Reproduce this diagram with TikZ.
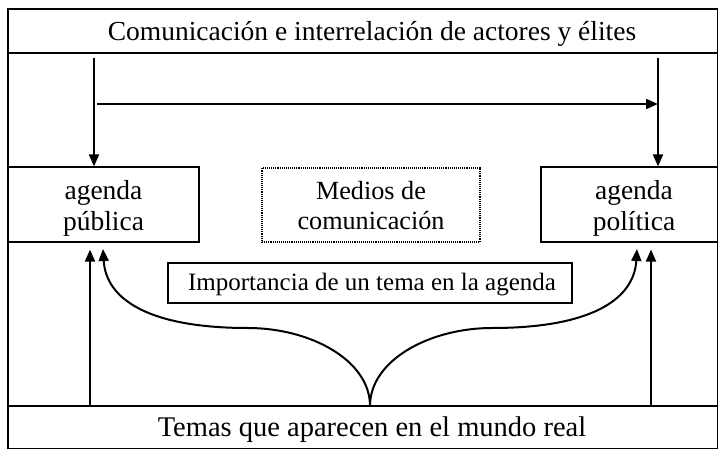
\documentclass[tikz,border=0pt]{standalone}
\usepackage{fontspec}
\setmainfont{Liberation Serif}
\usetikzlibrary{arrows.meta}
\begin{document}
\begin{tikzpicture}[x=1pt,y=-1pt,
  box/.style={draw, line width=1.1pt, inner sep=0pt},
  lab/.style={font=\fontsize{27.5}{32}\selectfont, inner sep=0pt, anchor=base},
  arr/.style={line width=2pt, -{Triangle[length=12pt,width=10pt]}}]
\useasboundingbox (0,0) rectangle (718,450);
% outer frame and bands
\draw[line width=1.2pt] (8,9) rectangle (717.5,448.5);
\draw[line width=1.2pt] (8,53) -- (717.5,53);
\draw[line width=1.2pt] (8,406) -- (717.5,406);
\node[lab] (head) at (372,40.5) {Comunicación e interrelación de actores y élites};
\node[lab, font=\fontsize{28.5}{32}\selectfont] (temas) at (372,436) {Temas que aparecen en el mundo real};
% boxes
\node[box, minimum width=191pt, minimum height=75pt] (pub) at (103.5,204.5) {};
\node[lab] (pub1) at (103.5,199) {agenda};
\node[lab] (pub2) at (103.5,230) {pública};
\node[box, densely dotted, minimum width=218pt, minimum height=74pt] (med) at (371,205) {};
\node[lab, font=\fontsize{26.2}{32}\selectfont] (med1) at (371,199) {Medios de};
\node[lab, font=\fontsize{26.2}{32}\selectfont] (med2) at (371,229) {comunicación};
\node[box, minimum width=178pt, minimum height=75pt] (pol) at (630,204.5) {};
\node[lab] (pol1) at (634,199) {agenda};
\node[lab] (pol2) at (634,230) {política};
\node[box, minimum width=404pt, minimum height=40pt] (imp) at (370,283) {};
\node[lab, font=\fontsize{25}{32}\selectfont] (impt) at (372,290) {Importancia de un tema en la agenda};
% coordinates
\coordinate (tl) at (94,58);
\coordinate (tr) at (658,58);
\coordinate (hl) at (97,104);
\coordinate (hr) at (658,104);
\coordinate (bl) at (90,406);
\coordinate (br) at (651,406);
\coordinate (cusp) at (370,406);
% top arrows
\draw[arr] (tl) -- (tl |- pub.north);
\draw[arr] (tr) -- (tr |- pol.north);
\draw[arr] (hl) -- (hr);
% bottom straight arrows
\draw[arr] (bl) -- ([yshift=-7pt]bl |- pub.south);
\draw[arr] (br) -- ([yshift=-7pt]br |- pol.south);
% curved arrows
\draw[arr] (cusp) .. controls (370,360) and (310,328) .. (248,328)
  .. controls (150,328) and (106,300) .. (103,249);
\draw[arr] (cusp) .. controls (370,360) and (430,328) .. (492,328)
  .. controls (590,328) and (634,300) .. (637,249);
\end{tikzpicture}
\end{document}
